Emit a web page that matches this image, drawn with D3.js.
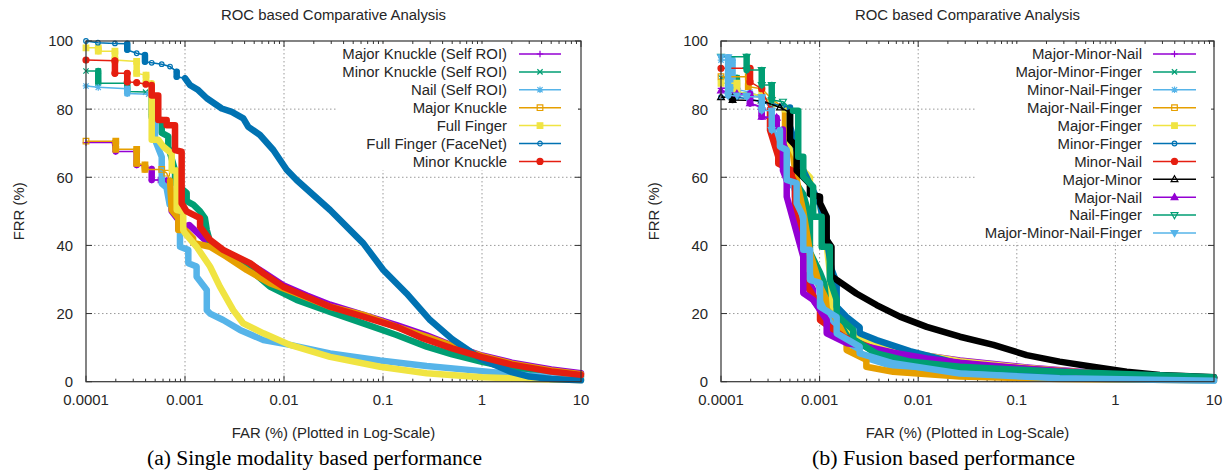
<!DOCTYPE html>
<html><head><meta charset="utf-8">
<script src="https://cdn.jsdelivr.net/npm/d3@7"></script>
<style>
body{margin:0;background:#fff}
svg{display:block}
text{font-family:"Liberation Sans",Arial,sans-serif;fill:#262626}
.cap{font-family:"Liberation Serif","Times New Roman",serif;fill:#000}
</style>
</head><body>
<svg id="c" width="1227" height="472"></svg>
<script>
// ---------------- data ----------------
const xTicks = [0.0001, 0.001, 0.01, 0.1, 1, 10];
const xTickLabels = ["0.0001", "0.001", "0.01", "0.1", "1", "10"];
const yTicks = [0, 20, 40, 60, 80, 100];
const chartTitle = "ROC based Comparative Analysis";
const xAxisTitle = "FAR (%) (Plotted in Log-Scale)";
const yAxisTitle = "FRR (%)";
const captions = ["(a) Single modality based performance", "(b) Fusion based performance"];

// Panel (a): single modality  [FAR %, FRR %]
const singleNames = ["Major Knuckle (Self ROI)", "Minor Knuckle (Self ROI)", "Nail (Self ROI)",
  "Major Knuckle", "Full Finger", "Full Finger (FaceNet)", "Minor Knuckle"];
const majorKnuckleSelf = [[1e-4,70.2],[1.96e-4,70.2],[2.0e-4,67.6],[3.25e-4,67.6],[3.25e-4,63.6],[3.94e-4,63.4],[4.61e-4,62.4],[4.61e-4,59.2],[5.37e-4,59.2],[6.53e-4,59],[7.06e-4,58],[7.34e-4,50],[8.56e-4,47.5],[8.56e-4,44.8],[1.1e-3,46],[1.59e-3,41.6],[2.0e-3,39.8],[2.63e-3,37.6],[3.33e-3,36.3],[4.54e-3,34.6],[6.2e-3,32.1],[9.8e-3,28.3],[0.017,25.3],[0.0292,22.6],[0.0633,19.6],[0.137,16.6],[0.276,13.6],[0.5,10.6],[1,7.7],[2,5.6],[5,3.6],[10,2.5]];
const minorKnuckleSelf = [[1e-4,91.2],[1.33e-4,91.2],[1.33e-4,87.6],[2.61e-4,87.6],[2.61e-4,85.2],[4.0e-4,85.0],[4.61e-4,84.6],[4.61e-4,77.8],[5.82e-4,76.8],[5.82e-4,73],[6.78e-4,72],[6.78e-4,69],[7.93e-4,62],[7.93e-4,58.3],[1.04e-3,55.4],[1.04e-3,53],[1.21e-3,52],[1.42e-3,50],[1.59e-3,48],[1.66e-3,44.5],[1.79e-3,41],[2.63e-3,37.7],[4.2e-3,33.8],[7.2e-3,27.9],[0.0134,24],[0.0292,20.5],[0.0633,17.1],[0.137,13.7],[0.276,10.3],[0.5,8],[1,5.8],[2,4],[5,2.3],[10,1.5]];
const nailSelf = [[1e-4,86.8],[1.33e-4,86.4],[2.61e-4,86.0],[2.61e-4,84.6],[4.3e-4,84.4],[4.98e-4,82.7],[4.98e-4,71],[5.82e-4,66],[5.82e-4,58.2],[6.5e-4,57],[7.0e-4,52],[8.9e-4,50],[8.9e-4,39.6],[1.08e-3,38.7],[1.08e-3,34.8],[1.31e-3,33.8],[1.31e-3,30.8],[1.66e-3,26.9],[1.66e-3,21],[1.79e-3,20],[2.43e-3,18.1],[3.59e-3,15.2],[6.2e-3,12.2],[0.0115,10.8],[0.0292,8.3],[0.0934,6.2],[0.276,4.6],[1,3.1],[3,1.8],[10,0.8]];
const majorKnuckle = [[1e-4,70.6],[2.0e-4,70.6],[2.0e-4,68.2],[3.25e-4,68.2],[3.25e-4,64.1],[3.94e-4,63.6],[3.94e-4,62.3],[5.82e-4,62.3],[6.53e-4,61.2],[7.06e-4,59],[7.34e-4,50.4],[8.56e-4,48],[8.56e-4,44.5],[1.0e-3,44.5],[1.21e-3,42],[1.21e-3,40.7],[1.79e-3,39.6],[2.63e-3,36.7],[4.2e-3,32.8],[7.2e-3,28.9],[0.0134,25.9],[0.0292,22],[0.0633,19.6],[0.137,16.1],[0.276,13.2],[0.5,10.5],[1,7.5],[2,5.3],[5,3.3],[10,2.2]];
const fullFinger = [[1e-4,98],[1.33e-4,98],[1.33e-4,97],[1.96e-4,97],[1.96e-4,94.4],[3.25e-4,94],[3.25e-4,90.5],[4.04e-4,90],[4.04e-4,87.6],[4.61e-4,87.6],[4.61e-4,71],[5.37e-4,71],[6.04e-4,69],[7.34e-4,67],[7.34e-4,62],[8.24e-4,62],[8.24e-4,50.4],[9.6e-4,50],[9.6e-4,44.5],[1.0e-3,43.6],[1.31e-3,39.6],[1.79e-3,33.8],[2.25e-3,27.9],[3.07e-3,21],[3.88e-3,17.1],[6.2e-3,14.2],[0.0115,10.8],[0.0292,7.3],[0.0934,4.4],[0.276,2.5],[1,1.3],[3,0.8],[10,0.5]];
const fullFingerFaceNet = [[1e-4,100],[1.32e-4,99.5],[1.96e-4,99.3],[2.61e-4,99.2],[2.61e-4,97.4],[3.25e-4,96.4],[3.94e-4,95.9],[3.94e-4,93.9],[4.61e-4,93.6],[5.82e-4,93.2],[7.06e-4,92.5],[8.24e-4,91.0],[8.24e-4,89.5],[1.0e-3,89.1],[1.12e-3,87.1],[1.36e-3,85.6],[1.66e-3,83.2],[2.35e-3,80.2],[2.97e-3,79.2],[3.88e-3,77.3],[4.36e-3,74.8],[5.72e-3,72.4],[7.8e-3,68.0],[0.01064,62.2],[0.0134,59.2],[0.0292,50.4],[0.0633,40.6],[0.1007,32.8],[0.173,25.9],[0.299,18.1],[0.5,12.5],[1,6.5],[2,2.8],[3,1.5],[5,0.8],[10,0.4]];
const minorKnuckle = [[1e-4,94.4],[1.96e-4,94.2],[1.96e-4,90.5],[2.61e-4,90.5],[2.61e-4,88],[3.25e-4,87.8],[4.04e-4,87.3],[4.61e-4,87.1],[4.61e-4,84],[5.37e-4,84],[5.37e-4,76.8],[6.53e-4,76.8],[6.53e-4,75.3],[7.93e-4,75.3],[7.93e-4,68],[9.25e-4,67.5],[9.25e-4,52.4],[1.04e-3,50],[1.42e-3,48],[1.42e-3,45.5],[1.79e-3,41.6],[2.43e-3,38.7],[3.33e-3,36.7],[4.54e-3,34.8],[6.2e-3,31.8],[9.8e-3,27.9],[0.017,24.9],[0.0292,22.0],[0.0633,19.1],[0.137,16.1],[0.255,12.7],[0.5,9.8],[1,7.2],[2,5.0],[5,3.0],[10,2.0]];

// Panel (b): fusion  [FAR %, FRR %]
const fusionNames = ["Major-Minor-Nail", "Major-Minor-Finger", "Minor-Nail-Finger", "Major-Nail-Finger",
  "Major-Finger", "Minor-Finger", "Minor-Nail", "Major-Minor", "Major-Nail", "Nail-Finger", "Major-Minor-Nail-Finger"];
const majorMinorNail = [[1e-4,86.1],[1.45e-4,86.1],[1.45e-4,84.5],[1.97e-4,84.5],[1.97e-4,81.7],[2.59e-4,80.5],[2.59e-4,78],[3.67e-4,76],[3.67e-4,74.8],[4.64e-4,72],[4.64e-4,59.2],[5.63e-4,57],[5.63e-4,54.3],[6.83e-4,50],[6.83e-4,32],[8.61e-4,27],[8.61e-4,24],[1.18e-3,18.5],[1.37e-3,15],[1.88e-3,13],[2.55e-3,12.2],[5.58e-3,9.5],[0.0122,7.6],[0.0265,6.2],[0.126,4.2],[0.59,2.6],[2.82,1.7],[10,1.2]];
const majorMinorFinger = [[1e-4,89.2],[1.45e-4,89.2],[1.45e-4,85],[2.59e-4,84],[3.27e-4,82],[4.64e-4,80],[4.64e-4,72],[5.85e-4,66],[5.85e-4,58],[6.83e-4,55],[7.98e-4,48],[7.98e-4,38],[1.01e-3,32],[1.18e-3,27],[1.49e-3,20],[2.19e-3,13],[3.79e-3,8],[8.25e-3,5.4],[0.0265,3.8],[0.272,2.3],[10,1.1]];
const minorNailFinger = [[1e-4,94.4],[1.31e-4,94.4],[1.31e-4,86],[1.97e-4,85],[2.59e-4,83],[3.27e-4,80],[3.27e-4,74],[3.96e-4,70],[4.64e-4,62],[5.85e-4,55],[6.83e-4,45],[7.98e-4,35],[1.01e-3,27],[1.37e-3,18],[1.88e-3,12],[2.98e-3,7],[5.58e-3,4.5],[0.0265,2.3],[0.272,1.0],[10,0.4]];
const majorNailFinger = [[1e-4,89.5],[1.89e-4,89.5],[1.89e-4,86.6],[2.59e-4,86],[3.27e-4,83],[4.46e-4,80],[4.46e-4,74],[5.21e-4,70],[5.63e-4,62],[6.07e-4,57],[6.83e-4,50],[7.98e-4,38],[1.01e-3,28],[1.37e-3,20],[1.88e-3,12.2],[1.88e-3,9.3],[2.98e-3,6.4],[2.98e-3,4.4],[5.58e-3,2.9],[0.0265,1.5],[0.272,0.8],[10,0.4]];
const majorFinger = [[1e-4,87.6],[1.45e-4,87.6],[1.45e-4,85],[2.59e-4,84],[3.27e-4,81.5],[4.46e-4,80],[5.01e-4,78],[5.01e-4,70],[5.85e-4,66],[6.83e-4,62],[7.98e-4,60],[7.98e-4,57.2],[1.01e-3,52],[1.18e-3,40],[1.27e-3,32],[1.37e-3,22],[1.74e-3,19],[2.19e-3,14.2],[3.79e-3,10.8],[8.25e-3,8.5],[0.0265,6],[0.126,4],[0.59,2.5],[10,1.0]];
const minorFinger = [[1e-4,83.5],[1.45e-4,83.5],[1.97e-4,83],[2.59e-4,82],[3.27e-4,81.5],[4.25e-4,81],[5.01e-4,80.5],[5.01e-4,75],[5.85e-4,68],[6.83e-4,62],[7.98e-4,58],[1.01e-3,52],[1.18e-3,42],[1.32e-3,33],[1.49e-3,29],[1.49e-3,22],[1.88e-3,19],[2.55e-3,16],[2.55e-3,14.2],[3.79e-3,12.2],[8.25e-3,9.0],[0.0265,5.2],[0.126,3.0],[0.59,1.8],[10,0.8]];
const minorNail = [[1e-4,92],[1.97e-4,92],[1.97e-4,88],[2.59e-4,86],[3.14e-4,80],[3.14e-4,73.9],[3.81e-4,66],[3.81e-4,64],[5.21e-4,62],[5.21e-4,60.2],[5.63e-4,58.3],[5.63e-4,49.5],[6.83e-4,38.7],[6.83e-4,29.9],[1.01e-3,22],[1.01e-3,18.1],[1.74e-3,13.2],[3.79e-3,9.3],[0.0122,6.5],[0.058,4.5],[0.59,2.5],[10,1.1]];
const majorMinor = [[1e-4,83.5],[1.31e-4,83.5],[1.31e-4,82.7],[2.59e-4,82.5],[3.96e-4,80.5],[5.01e-4,79],[5.01e-4,71],[5.85e-4,69],[5.85e-4,62],[7.98e-4,58],[7.98e-4,55],[1.01e-3,54.3],[1.01e-3,52.4],[1.18e-3,48.4],[1.18e-3,41.6],[1.32e-3,39.6],[1.32e-3,31],[1.49e-3,29.9],[2.36e-3,25.9],[3.79e-3,22.5],[6.52e-3,19.1],[0.0122,16.1],[0.0265,13.2],[0.058,10.8],[0.126,7.8],[0.272,5.9],[0.59,4.4],[1.30,2.9],[2.82,2.0],[10,1.3]];
const majorNail = [[1e-4,85.5],[1.45e-4,84.5],[1.97e-4,84.5],[1.97e-4,81.7],[2.59e-4,80.7],[2.59e-4,77.8],[3.67e-4,77.5],[3.67e-4,74.8],[4.25e-4,74],[4.25e-4,62],[4.64e-4,59.2],[4.64e-4,54.3],[6.83e-4,36.7],[6.83e-4,26],[8.61e-4,24],[1.18e-3,18.1],[1.18e-3,14.2],[1.88e-3,11.3],[2.55e-3,10.8],[5.58e-3,8.5],[0.0122,6.8],[0.0265,5.6],[0.126,3.8],[0.59,2.4],[10,1.1]];
const nailFinger = [[1e-4,95.4],[1.82e-4,95.4],[1.82e-4,91.5],[2.59e-4,91.5],[2.59e-4,87.1],[3.27e-4,87.1],[3.27e-4,82.7],[4.25e-4,82.2],[5.37e-4,79.5],[6.07e-4,79.5],[6.07e-4,66],[6.83e-4,66],[6.83e-4,60.2],[8.61e-4,57.2],[8.61e-4,48.4],[1.05e-3,48.4],[1.05e-3,39.6],[1.27e-3,39.6],[1.27e-3,30],[1.49e-3,24],[1.49e-3,19.5],[2.19e-3,15.2],[2.19e-3,12.5],[3.79e-3,8.3],[8.25e-3,5.9],[0.0265,4.4],[0.272,2.9],[10,1.3]];
const majorMinorNailFinger = [[1e-4,95.2],[1.18e-4,95.2],[1.18e-4,84],[1.45e-4,84],[1.82e-4,83.9],[1.82e-4,83.7],[2.59e-4,83.5],[2.59e-4,79.7],[3.27e-4,79.5],[3.27e-4,73.9],[3.96e-4,73.9],[3.96e-4,69],[4.64e-4,68],[4.64e-4,59.2],[5.85e-4,58.3],[5.85e-4,52.4],[6.83e-4,48.4],[6.83e-4,38.7],[7.98e-4,38.7],[7.98e-4,29.9],[1.01e-3,29],[1.01e-3,22],[1.49e-3,19],[1.49e-3,14.2],[2.55e-3,10.3],[2.55e-3,8.3],[5.58e-3,5.4],[0.0265,2.4],[0.272,1.0],[10,0.3]];

// ---------------- style ----------------
const palette = ["#9400d3", "#009e73", "#56b4e9", "#e69f00", "#f0e442", "#0072b2", "#e51e10", "#000000"];
const panels = [
  { x0: 86, x1: 581, names: singleNames,
    series: [majorKnuckleSelf, minorKnuckleSelf, nailSelf, majorKnuckle, fullFinger, fullFingerFaceNet, minorKnuckle],
    bandFrom: [5.4e-4, 4.7e-4, 4.9e-4, 7.0e-4, 4.6e-4, 1.0e-3, 4.6e-4],
    keyTextX: 507, keyLine: [519, 561], keyBox: [336, 44, 578, 170], capX: 314.5, capW: 335 },
  { x0: 721, x1: 1214, names: fusionNames,
    series: [majorMinorNail, majorMinorFinger, minorNailFinger, majorNailFinger, majorFinger, minorFinger, minorNail, majorMinor, majorNail, nailFinger, majorMinorNailFinger],
    bandFrom: [4.6e-4, 4.6e-4, 3.2e-4, 4.4e-4, 5.0e-4, 5.0e-4, 3.1e-4, 5.0e-4, 4.2e-4, 5.3e-4, 3.9e-4],
    keyTextX: 1142, keyLine: [1153, 1196], keyBox: [975, 44, 1211, 242], capX: 943.5, capW: 263 }
];
const yTop = 41, yBot = 381.7;
const fs = 14.9;

const svg = d3.select("#c");

function markerPath(t, x, y) {
  const s = 3.3, p = d3.path();
  if (t === 1 || t === 3) { p.moveTo(x - s, y); p.lineTo(x + s, y); p.moveTo(x, y - s); p.lineTo(x, y + s); }
  if (t === 2 || t === 3) { const c = s * 0.8; p.moveTo(x - c, y - c); p.lineTo(x + c, y + c); p.moveTo(x - c, y + c); p.lineTo(x + c, y - c); }
  if (t === 4 || t === 5) { p.rect(x - 2.8, y - 2.8, 5.6, 5.6); }
  if (t === 6) { p.moveTo(x + 2.3, y); p.arc(x, y, 2.3, 0, 2 * Math.PI); }
  if (t === 7) { p.moveTo(x + 3, y); p.arc(x, y, 3, 0, 2 * Math.PI); }
  if (t === 8 || t === 9) { p.moveTo(x, y - 3.6); p.lineTo(x + 3.4, y + 2.4); p.lineTo(x - 3.4, y + 2.4); p.closePath(); }
  if (t === 10 || t === 11) { p.moveTo(x, y + 3.6); p.lineTo(x + 3.4, y - 2.4); p.lineTo(x - 3.4, y - 2.4); p.closePath(); }
  return p.toString();
}
function drawMarker(g, t, x, y, color) {
  const filled = [5, 7, 9, 11].includes(t);
  g.append("path").attr("d", markerPath(t, x, y))
    .attr("fill", filled ? color : "none").attr("stroke", color).attr("stroke-width", 1.2);
}

panels.forEach((P, pi) => {
  const xs = d3.scaleLog().domain([1e-4, 10]).range([P.x0, P.x1]);
  const ys = d3.scaleLinear().domain([0, 100]).range([yBot, yTop]);
  const g = svg.append("g");
  const cx = (P.x0 + P.x1) / 2;

  // grid
  const gridX = xTicks.slice(1, -1), gridY = yTicks.slice(1, -1);
  g.selectAll(null).data(gridX).enter().append("line")
    .attr("x1", d => xs(d)).attr("x2", d => xs(d)).attr("y1", yTop).attr("y2", yBot)
    .attr("stroke", "#9a9a9a").attr("stroke-width", 1).attr("stroke-dasharray", "1.5,2.5");
  g.selectAll(null).data(gridY).enter().append("line")
    .attr("y1", d => ys(d)).attr("y2", d => ys(d)).attr("x1", P.x0).attr("x2", P.x1)
    .attr("stroke", "#9a9a9a").attr("stroke-width", 1).attr("stroke-dasharray", "1.5,2.5");

  // ticks (inward, mirrored)
  const minor = [];
  xTicks.slice(0, -1).forEach(d => { for (let k = 2; k <= 9; k++) minor.push(d * k); });
  const tk = g.append("g").attr("stroke", "#333").attr("stroke-width", 1);
  xTicks.forEach(d => {
    tk.append("line").attr("x1", xs(d)).attr("x2", xs(d)).attr("y1", yBot).attr("y2", yBot - 6);
    tk.append("line").attr("x1", xs(d)).attr("x2", xs(d)).attr("y1", yTop).attr("y2", yTop + 6);
  });
  minor.forEach(d => {
    tk.append("line").attr("x1", xs(d)).attr("x2", xs(d)).attr("y1", yBot).attr("y2", yBot - 3);
    tk.append("line").attr("x1", xs(d)).attr("x2", xs(d)).attr("y1", yTop).attr("y2", yTop + 3);
  });
  yTicks.forEach(d => {
    tk.append("line").attr("x1", P.x0).attr("x2", P.x0 + 6).attr("y1", ys(d)).attr("y2", ys(d));
    tk.append("line").attr("x1", P.x1).attr("x2", P.x1 - 6).attr("y1", ys(d)).attr("y2", ys(d));
  });

  // series
  const line = d3.line().x(d => xs(d[0])).y(d => ys(d[1]));
  P.series.forEach((pts, si) => {
    const color = palette[si % 8];
    const ptype = si + 1;
    const sg = g.append("g");
    sg.append("path").attr("d", line(pts)).attr("fill", "none")
      .attr("stroke", color).attr("stroke-width", 1.5);
    let runs = [], cur = null;
    for (let i = 0; i < pts.length - 1; i++) {
      const vertical = Math.abs(xs(pts[i + 1][0]) - xs(pts[i][0])) < 1;
      const thick = vertical || pts[i][0] >= P.bandFrom[si];
      if (thick) { if (!cur) { cur = [pts[i]]; runs.push(cur); } cur.push(pts[i + 1]); }
      else cur = null;
    }
    runs.forEach(r => sg.append("path").attr("d", line(r)).attr("fill", "none")
      .attr("stroke", color).attr("stroke-width", 6.5)
      .attr("stroke-linejoin", "round").attr("stroke-linecap", "round"));
    pts.forEach(p => { if (p[0] < P.bandFrom[si]) drawMarker(sg, ptype, xs(p[0]), ys(p[1]), color); });
  });

  // border
  g.append("rect").attr("x", P.x0).attr("y", yTop).attr("width", P.x1 - P.x0).attr("height", yBot - yTop)
    .attr("fill", "none").attr("stroke", "#333").attr("stroke-width", 1.2);

  // key (opaque)
  const kb = P.keyBox;
  g.append("rect").attr("x", kb[0]).attr("y", kb[1]).attr("width", kb[2] - kb[0]).attr("height", kb[3] - kb[1]).attr("fill", "#fff");
  P.names.forEach((n, i) => {
    const y = 54 + i * 17.9;
    const color = palette[i % 8];
    g.append("text").attr("x", P.keyTextX).attr("y", y).attr("dy", "0.36em")
      .attr("text-anchor", "end").attr("font-size", fs).text(n);
    g.append("line").attr("x1", P.keyLine[0]).attr("x2", P.keyLine[1]).attr("y1", y).attr("y2", y)
      .attr("stroke", color).attr("stroke-width", 1.5);
    drawMarker(g, i + 1, (P.keyLine[0] + P.keyLine[1]) / 2, y, color);
  });

  // tick labels
  xTicks.forEach((d, i) => g.append("text").attr("x", xs(d)).attr("y", 404.5)
    .attr("text-anchor", "middle").attr("font-size", fs).text(xTickLabels[i]));
  yTicks.forEach(d => g.append("text").attr("x", P.x0 - 13).attr("y", ys(d)).attr("dy", "0.36em")
    .attr("text-anchor", "end").attr("font-size", fs).text(d));

  // titles
  g.append("text").attr("x", cx).attr("y", 19.5).attr("text-anchor", "middle").attr("font-size", fs).text(chartTitle);
  g.append("text").attr("x", cx).attr("y", 437.5).attr("text-anchor", "middle").attr("font-size", fs).text(xAxisTitle);
  g.append("text").attr("transform", `translate(${P.x0 - 67},${(yTop + yBot) / 2}) rotate(-90)`)
    .attr("dy", "0.36em").attr("text-anchor", "middle").attr("font-size", fs).text(yAxisTitle);
  g.append("text").attr("class", "cap").attr("x", P.capX - P.capW / 2).attr("y", 465)
    .attr("font-size", 20).attr("textLength", P.capW).attr("lengthAdjust", "spacingAndGlyphs").text(captions[pi]);
});
</script>
</body></html>
